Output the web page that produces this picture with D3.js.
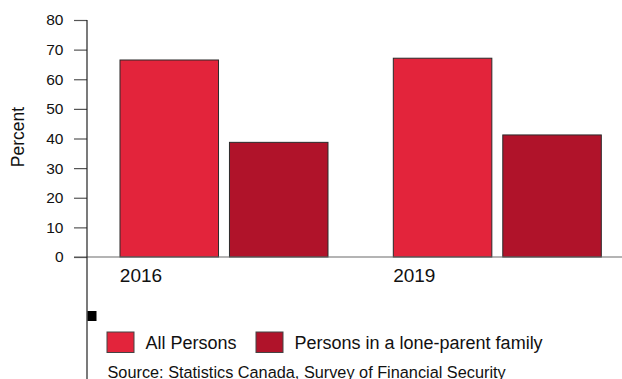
<!DOCTYPE html>
<html>
<head>
<meta charset="utf-8">
<script src="https://cdn.jsdelivr.net/npm/d3@7"></script>
<style>
  html, body { margin: 0; padding: 0; background: #fff; }
  svg { display: block; font-family: "Liberation Sans", Arial, Helvetica, sans-serif; }
</style>
</head>
<body>
<svg id="chart" width="622" height="379"></svg>
<script>
// Share of persons (%) by survey year
const years = ["2016", "2019"];
const seriesNames = ["All Persons", "Persons in a lone-parent family"];
const allPersons = [66.5, 67.1];
const loneParent = [38.7, 41.2];
const yTicks = [0, 10, 20, 30, 40, 50, 60, 70, 80];
const colors = ["#E3243B", "#B0132A"];
const sourceNote = "Source: Statistics Canada, Survey of Financial Security";

const rows = years.map((yr, i) => ({ year: yr, values: [allPersons[i], loneParent[i]] }));

const svg = d3.select("#chart");
const plotLeft = 87, plotTop = 20, plotBottom = 257;

const y = d3.scaleLinear().domain([0, 80]).range([plotBottom, plotTop]);

const x0 = d3.scaleBand()
  .domain(years)
  .range([plotLeft, 634.3])
  .paddingInner(0.239)
  .paddingOuter(0.1207);

const x1 = d3.scaleBand()
  .domain(d3.range(seriesNames.length))
  .range([0, x0.bandwidth()])
  .paddingInner(0.1)
  .paddingOuter(0);

// Bars
const groups = svg.append("g").selectAll("g")
  .data(rows).join("g")
  .attr("transform", d => `translate(${x0(d.year)},0)`);

groups.selectAll("rect")
  .data(d => d.values.map((v, i) => ({ v, i })))
  .join("rect")
  .attr("x", d => x1(d.i))
  .attr("y", d => y(d.v))
  .attr("width", x1.bandwidth())
  .attr("height", d => y(0) - y(d.v))
  .attr("fill", d => colors[d.i])
  .attr("stroke", "#2b2b2b")
  .attr("stroke-width", 1);

// Zero baseline across the plot
svg.append("line")
  .attr("x1", 74).attr("x2", 622)
  .attr("y1", y(0)).attr("y2", y(0))
  .attr("stroke", "#6b6b6b").attr("stroke-width", 1.2);

// Y axis
const yAxis = svg.append("g")
  .attr("transform", `translate(${plotLeft},0)`)
  .call(d3.axisLeft(y).tickValues(yTicks).tickSize(13).tickPadding(10.5).tickSizeOuter(0));
yAxis.select(".domain").remove();
yAxis.selectAll(".tick line").attr("stroke", "#555").attr("stroke-width", 1.2);
yAxis.selectAll(".tick text")
  .attr("fill", "#111")
  .style("font-size", "15.5px")
  .style("font-family", "Liberation Sans, Arial, sans-serif");

// Vertical axis line running down the full height
svg.append("line")
  .attr("x1", plotLeft).attr("x2", plotLeft)
  .attr("y1", plotTop).attr("y2", 379)
  .attr("stroke", "#222").attr("stroke-width", 1.2);

// Y axis title
svg.append("text")
  .attr("transform", "translate(23.5,137) rotate(-90)")
  .attr("text-anchor", "middle")
  .attr("fill", "#111")
  .style("font-size", "17.5px")
  .text("Percent");

// Year labels
svg.append("g").selectAll("text")
  .data(years).join("text")
  .attr("x", d => x0(d) + 21)
  .attr("y", 282)
  .attr("text-anchor", "middle")
  .attr("fill", "#111")
  .style("font-size", "19px")
  .text(d => d);

// Small marker square
svg.append("rect")
  .attr("x", 87.5).attr("y", 311)
  .attr("width", 9).attr("height", 10)
  .attr("fill", "#000");

// Legend
const legendX = [107, 256];
const legend = svg.append("g").selectAll("g")
  .data(seriesNames).join("g")
  .attr("transform", (d, i) => `translate(${legendX[i]},332)`);
legend.append("rect")
  .attr("width", 27).attr("height", 20.5)
  .attr("fill", (d, i) => colors[i])
  .attr("stroke", "#444").attr("stroke-width", 1);
legend.append("text")
  .attr("x", 38.5).attr("y", 16.5)
  .attr("fill", "#111")
  .style("font-size", "18px")
  .text(d => d);

// Source note
svg.append("text")
  .attr("x", 107.5).attr("y", 378)
  .attr("fill", "#111")
  .style("font-size", "16.3px")
  .text(sourceNote);
</script>
</body>
</html>
